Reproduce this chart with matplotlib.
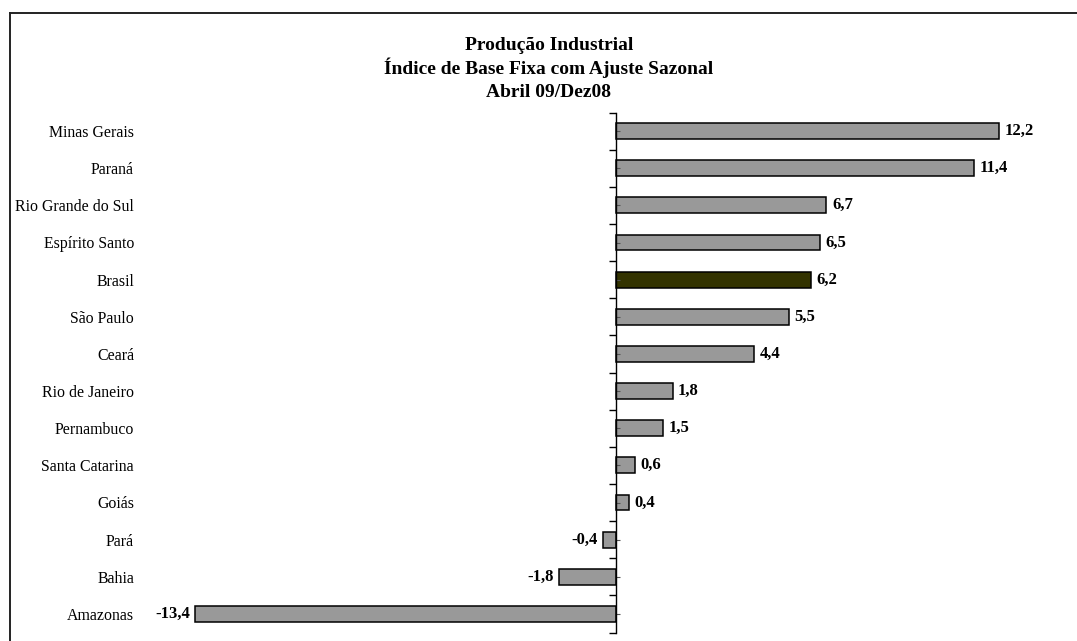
import numpy as np
import matplotlib.pyplot as plt
from matplotlib.lines import Line2D

# data (top to bottom)
estados = ['Minas Gerais', 'Paraná', 'Rio Grande do Sul', 'Espírito Santo', 'Brasil',
           'São Paulo', 'Ceará', 'Rio de Janeiro', 'Pernambuco', 'Santa Catarina',
           'Goiás', 'Pará', 'Bahia', 'Amazonas']
valores = [12.2, 11.4, 6.7, 6.5, 6.2, 5.5, 4.4, 1.8, 1.5, 0.6, 0.4, -0.4, -1.8, -13.4]
titulo = ['Produção Industrial', 'Índice de Base Fixa com Ajuste Sazonal', 'Abril 09/Dez08']

plt.rcParams['font.family'] = ['Liberation Serif', 'DejaVu Serif']

W, H = 1077, 641
fig = plt.figure(figsize=(W / 100, H / 100), dpi=100)

# axes: zero at x=616px, 31.4 px per unit; rows from y=112 to 633
xmin, xmax = -15, 14
scale = 31.4
left_px = 616 + xmin * scale
right_px = 616 + xmax * scale
top_px, bot_px = 112.5, 632.5
ax = fig.add_axes([left_px / W, 1 - bot_px / H, (right_px - left_px) / W, (bot_px - top_px) / H])

n = len(estados)
y = np.arange(n)[::-1]
cores = ['#333300' if e == 'Brasil' else '#999999' for e in estados]
bars = ax.barh(y, valores, height=0.43, color=cores, edgecolor='black', linewidth=1.1)

ax.bar_label(bars, labels=[f'{v:.1f}'.replace('.', ',') for v in valores],
             padding=4, fontsize=12, fontweight='bold')

ax.set_xlim(xmin, xmax)
ax.set_ylim(-0.5, n - 0.5)

for s in ['top', 'right', 'bottom']:
    ax.spines[s].set_visible(False)
ax.spines['left'].set_position(('data', 0))
ax.spines['left'].set_linewidth(1.0)
ax.set_xticks([])

ax.set_yticks(np.arange(n + 1) - 0.5)
ax.set_yticklabels([])
ax.set_yticks(y, minor=True)
ax.set_yticklabels(estados, minor=True, fontsize=11.4)
ax.tick_params(axis='y', which='major', direction='out', length=5, width=1)
ax.tick_params(axis='y', which='minor', direction='in', length=3, width=0.8,
               color='#555555', pad=(616 - 134) * 0.72)

for linha, base in zip(titulo, [50, 74, 97]):
    fig.text(549 / W, 1 - base / H, linha, ha='center', va='baseline', fontsize=14,
             fontweight='bold')

# chart frame (only left and top edges fall inside the image)
fig.add_artist(Line2D([9.5 / W, 9.5 / W], [0, 1 - 12.5 / H], color='#222222', lw=1.4,
                      transform=fig.transFigure))
fig.add_artist(Line2D([9.5 / W, 1], [1 - 12.5 / H, 1 - 12.5 / H], color='#222222', lw=1.4,
                      transform=fig.transFigure))

fig.savefig('out.png', dpi=100)
